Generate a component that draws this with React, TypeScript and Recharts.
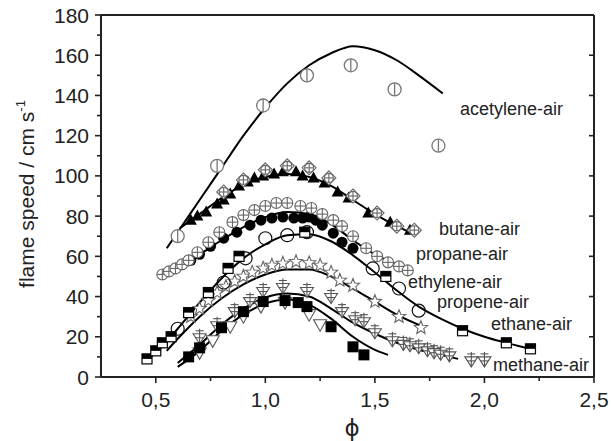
import { ComposedChart, Line, Scatter, XAxis, YAxis } from "recharts";

// equivalence ratio (phi) vs flame speed (cm/s)
const acetyleneMeas = [[0.6, 70], [0.78, 105], [0.99, 135], [1.19, 150], [1.39, 155], [1.59, 143], [1.79, 115]];
const acetyleneModel = [[0.55, 64], [0.6, 72], [0.7, 88], [0.8, 104], [0.9, 120], [1.0, 134], [1.1, 146], [1.2, 155], [1.3, 161], [1.4, 164.5], [1.5, 162.5], [1.6, 157.5], [1.7, 150], [1.81, 141]];

const butaneTri = [[0.66, 78], [0.69, 80], [0.73, 82], [0.78, 86], [0.81, 88], [0.84, 91], [0.88, 95], [0.92, 97], [0.95, 99], [0.99, 100], [1.04, 101], [1.08, 102], [1.14, 102], [1.17, 100], [1.22, 99], [1.27, 96.5], [1.33, 92], [1.38, 89], [1.47, 81.5], [1.57, 77], [1.66, 73]];
const butaneDia = [[0.81, 92], [0.9, 98], [1.0, 103], [1.1, 105], [1.2, 104], [1.29, 99], [1.4, 90], [1.51, 81.5], [1.6, 75], [1.68, 73]];
const butaneModel = [[0.61, 74], [0.7, 81], [0.8, 89], [0.9, 95.5], [1.0, 99.5], [1.1, 101], [1.2, 99.5], [1.3, 95], [1.4, 88], [1.5, 81], [1.6, 75], [1.68, 71]];

const propaneCross = [[0.53, 51], [0.56, 52.5], [0.59, 54], [0.62, 56], [0.65, 58], [0.69, 62], [0.74, 67], [0.79, 72], [0.85, 77], [0.9, 80.5], [0.95, 83], [1.0, 85], [1.05, 86.5], [1.1, 86.5], [1.16, 85], [1.21, 84], [1.26, 81], [1.31, 78], [1.35, 75], [1.4, 70], [1.46, 64], [1.51, 60], [1.56, 57], [1.61, 55], [1.65, 53]];
const propaneFill = [[0.66, 58], [0.7, 61], [0.75, 65], [0.81, 69], [0.87, 72], [0.93, 75.5], [0.98, 78], [1.03, 79], [1.08, 79.5], [1.13, 79], [1.17, 79], [1.2, 79.5], [1.23, 78], [1.26, 75.5], [1.31, 71.5], [1.35, 67], [1.4, 64]];
const propaneModel = [[0.52, 50], [0.6, 55], [0.7, 61], [0.8, 68], [0.9, 74.5], [1.0, 79.5], [1.1, 82], [1.2, 81], [1.3, 76], [1.4, 68], [1.5, 61], [1.6, 56], [1.66, 54]];

const ethyleneSq = [[0.46, 9], [0.5, 13], [0.53, 17], [0.57, 20], [0.65, 32], [0.74, 42], [0.83, 54], [0.88, 60], [1.18, 72], [1.55, 50], [1.9, 23], [2.1, 17], [2.21, 14]];
const ethyleneCirc = [[0.6, 24], [0.81, 47], [0.91, 59], [1.0, 69], [1.1, 70.5], [1.19, 72], [1.49, 54], [1.61, 44], [1.7, 33]];
const ethyleneModel = [[0.45, 8], [0.5, 12], [0.6, 24], [0.7, 37], [0.8, 49], [0.9, 59], [1.0, 66], [1.1, 70.5], [1.2, 71], [1.3, 67.5], [1.4, 60.5], [1.5, 52], [1.6, 43], [1.7, 35], [1.8, 29], [1.9, 24], [2.0, 20], [2.1, 17], [2.21, 14]];

const propeneStar = [[0.66, 30], [0.7, 34], [0.74, 38], [0.78, 42], [0.82, 45], [0.86, 47.5], [0.9, 50], [0.94, 52], [0.99, 54], [1.03, 55.5], [1.08, 56.5], [1.14, 57.3], [1.2, 56.7], [1.25, 55.5], [1.3, 52], [1.34, 48], [1.4, 45.5], [1.5, 37.5], [1.61, 30], [1.71, 24.5]];
const propeneModel = [[0.55, 13], [0.6, 19], [0.7, 30], [0.8, 39], [0.9, 46], [1.0, 51], [1.1, 53.5], [1.2, 53.5], [1.3, 50], [1.4, 44], [1.5, 37.5], [1.6, 31], [1.72, 25]];

const methaneCrown = [[0.7, 20], [0.78, 26], [0.86, 33], [0.93, 38], [0.99, 43], [1.08, 45], [1.19, 43], [1.3, 40], [1.35, 33], [1.41, 29], [1.45, 28], [1.5, 22.5], [1.58, 18.5], [1.63, 16.7], [1.66, 16], [1.7, 15], [1.74, 13.5], [1.77, 12.6], [1.8, 11.8], [1.84, 11], [1.94, 8.5], [2.0, 8.5]];
const methaneTri = [[0.7, 12], [0.76, 18], [0.84, 25], [0.9, 30], [0.98, 35], [1.09, 37], [1.2, 31], [1.25, 26]];
const methaneSq = [[0.65, 10], [0.7, 14.5], [0.8, 24.5], [0.9, 32.5], [0.99, 37.5], [1.09, 38], [1.15, 37], [1.19, 35], [1.3, 25], [1.4, 15], [1.45, 11]];
const methaneModelA = [[0.6, 7], [0.7, 16], [0.8, 26], [0.9, 34], [1.0, 39.5], [1.1, 41.5], [1.2, 40], [1.3, 34], [1.4, 27], [1.5, 21.5], [1.6, 17], [1.7, 13.5], [1.8, 11], [1.88, 9]];
const methaneModelB = [[0.6, 5], [0.7, 13], [0.8, 23], [0.9, 31], [1.0, 36.5], [1.1, 38.5], [1.2, 36], [1.3, 29], [1.4, 20], [1.5, 13.5], [1.56, 11]];

const xTicks = [0.5, 0.75, 1.0, 1.25, 1.5, 1.75, 2.0, 2.25, 2.5];
const xTopTicks = [0.5, 1.0, 1.5, 2.0, 2.5];
const yTicks = [0, 10, 20, 30, 40, 50, 60, 70, 80, 90, 100, 110, 120, 130, 140, 150, 160, 170, 180];
const yRightTicks = [0, 20, 40, 60, 80, 100, 120, 140, 160, 180];

const pts = (a: number[][]) => a.map(([phi, s]) => ({ phi, s }));

const FONT = "'Liberation Sans', Arial, sans-serif";
const INK = "#222";

const circleBar = (p: any) => (
  <g>
    <circle cx={p.cx} cy={p.cy} r={6.5} fill="#fff" stroke="#777" strokeWidth={1.3} />
    <line x1={p.cx} y1={p.cy - 6.5} x2={p.cx} y2={p.cy + 6.5} stroke="#777" strokeWidth={1.3} />
  </g>
);
const triFilled = (p: any) => (
  <polygon points={`${p.cx},${p.cy - 6.5} ${p.cx - 6},${p.cy + 4.5} ${p.cx + 6},${p.cy + 4.5}`} fill="#000" />
);
const diaCross = (p: any) => (
  <g fill="none" stroke="#666" strokeWidth={1.1}>
    <polygon points={`${p.cx},${p.cy - 7} ${p.cx + 7},${p.cy} ${p.cx},${p.cy + 7} ${p.cx - 7},${p.cy}`} fill="#fff" />
    <circle cx={p.cx} cy={p.cy} r={4.5} />
    <line x1={p.cx - 4.5} y1={p.cy} x2={p.cx + 4.5} y2={p.cy} />
    <line x1={p.cx} y1={p.cy - 4.5} x2={p.cx} y2={p.cy + 4.5} />
  </g>
);
const circleCross = (p: any) => (
  <g fill="#fff" stroke="#666" strokeWidth={1.1}>
    <circle cx={p.cx} cy={p.cy} r={5.5} />
    <line x1={p.cx - 5.5} y1={p.cy} x2={p.cx + 5.5} y2={p.cy} />
    <line x1={p.cx} y1={p.cy - 5.5} x2={p.cx} y2={p.cy + 5.5} />
  </g>
);
const circleFilled = (p: any) => <circle cx={p.cx} cy={p.cy} r={5.5} fill="#000" />;
const circleOpen = (p: any) => <circle cx={p.cx} cy={p.cy} r={6.5} fill="none" stroke="#111" strokeWidth={1.2} />;
const squareHalf = (p: any) => (
  <g>
    <rect x={p.cx - 5} y={p.cy - 5} width={10} height={10} fill="#fff" stroke="#000" strokeWidth={1.2} />
    <rect x={p.cx - 5} y={p.cy - 5} width={10} height={5} fill="#000" />
  </g>
);
const squareFilled = (p: any) => <rect x={p.cx - 5.5} y={p.cy - 5.5} width={11} height={11} fill="#000" />;
const starOpen = (p: any) => {
  const s: string[] = [];
  for (let i = 0; i < 10; i++) {
    const r = i % 2 === 0 ? 7 : 3;
    const a = -Math.PI / 2 + (i * Math.PI) / 5;
    s.push(`${p.cx + r * Math.cos(a)},${p.cy + r * Math.sin(a)}`);
  }
  return <polygon points={s.join(" ")} fill="#fff" stroke="#666" strokeWidth={1.1} />;
};
const triDownOpen = (p: any) => (
  <polygon points={`${p.cx - 6.5},${p.cy - 5} ${p.cx + 6.5},${p.cy - 5} ${p.cx},${p.cy + 6.5}`} fill="#fff" stroke="#555" strokeWidth={1.1} />
);
const triDownCross = (p: any) => (
  <g fill="none" stroke="#555" strokeWidth={1.1}>
    <polygon points={`${p.cx - 6.5},${p.cy - 3} ${p.cx + 6.5},${p.cy - 3} ${p.cx},${p.cy + 7}`} fill="#fff" />
    <line x1={p.cx} y1={p.cy - 8} x2={p.cx} y2={p.cy + 7} />
    <line x1={p.cx - 4} y1={p.cy - 6} x2={p.cx + 4} y2={p.cy - 6} />
    <line x1={p.cx - 4} y1={p.cy + 1} x2={p.cx + 4} y2={p.cy + 1} />
  </g>
);

const isMajor = (v: number, step: number) => Math.abs(v / step - Math.round(v / step)) < 1e-6;

const BottomTick = (p: any) => {
  const v = p.payload.value;
  const major = isMajor(v, 0.5);
  return (
    <g>
      <line x1={p.x} y1={p.y} x2={p.x} y2={p.y + (major ? 6 : 4)} stroke={INK} strokeWidth={1.6} />
      {major && (
        <text x={p.x} y={p.y + 30} textAnchor="middle" fontSize={21} fontFamily={FONT} fill={INK}>
          {v.toFixed(1).replace(".", ",")}
        </text>
      )}
    </g>
  );
};
const TopTick = (p: any) => <line x1={p.x} y1={p.y} x2={p.x} y2={p.y + 5} stroke={INK} strokeWidth={1.6} />;
const LeftTick = (p: any) => {
  const v = p.payload.value;
  const major = isMajor(v, 20);
  return (
    <g>
      <line x1={p.x} y1={p.y} x2={p.x - (major ? 6 : 4)} y2={p.y} stroke={INK} strokeWidth={1.6} />
      {major && (
        <text x={p.x - 12} y={p.y + 7.5} textAnchor="end" fontSize={21} fontFamily={FONT} fill={INK}>
          {v}
        </text>
      )}
    </g>
  );
};
const RightTick = (p: any) => <line x1={p.x} y1={p.y} x2={p.x - 5} y2={p.y} stroke={INK} strokeWidth={1.6} />;

const axisLine = { stroke: INK, strokeWidth: 2 };

const seriesLabels = [
  { text: "acetylene-air", x: 460, y: 115 },
  { text: "butane-air", x: 439, y: 235 },
  { text: "propane-air", x: 416, y: 260 },
  { text: "ethylene-air", x: 408, y: 288 },
  { text: "propene-air", x: 437, y: 308 },
  { text: "ethane-air", x: 491, y: 330 },
  { text: "methane-air", x: 493, y: 371 },
];

const models = [acetyleneModel, butaneModel, propaneModel, ethyleneModel, propeneModel, methaneModelA, methaneModelB];
const measured: [number[][], (p: any) => any][] = [
  [acetyleneMeas, circleBar],
  [propaneFill, circleFilled],
  [propaneCross, circleCross],
  [butaneTri, triFilled],
  [butaneDia, diaCross],
  [propeneStar, starOpen],
  [methaneTri, triDownOpen],
  [methaneCrown, triDownCross],
  [methaneSq, squareFilled],
  [ethyleneCirc, circleOpen],
  [ethyleneSq, squareHalf],
];

export default function App() {
  return (
    <div style={{ position: "absolute", left: 0, top: 0, background: "#fff" }}>
      <ComposedChart width={611} height={441} margin={{ top: 0, right: 0, bottom: 0, left: 0 }}>
        <XAxis
          dataKey="phi"
          type="number"
          domain={[0.25, 2.5]}
          allowDataOverflow
          ticks={xTicks}
          interval={0}
          height={64}
          tickSize={0}
          tickMargin={0}
          tickLine={false}
          axisLine={axisLine}
          tick={BottomTick}
        />
        <XAxis
          xAxisId="t"
          orientation="top"
          type="number"
          domain={[0.25, 2.5]}
          allowDataOverflow
          ticks={xTopTicks}
          interval={0}
          height={15}
          tickSize={0}
          tickMargin={0}
          tickLine={false}
          axisLine={axisLine}
          tick={TopTick}
        />
        <YAxis
          type="number"
          domain={[0, 180]}
          allowDataOverflow
          ticks={yTicks}
          interval={0}
          width={101}
          tickSize={0}
          tickMargin={0}
          tickLine={false}
          axisLine={axisLine}
          tick={LeftTick}
        />
        <YAxis
          yAxisId="r"
          orientation="right"
          type="number"
          domain={[0, 180]}
          allowDataOverflow
          ticks={yRightTicks}
          interval={0}
          width={17}
          tickSize={0}
          tickMargin={0}
          tickLine={false}
          axisLine={axisLine}
          tick={RightTick}
        />
        {models.map((m, i) => (
          <Line
            key={"m" + i}
            data={pts(m)}
            dataKey="s"
            type="monotone"
            stroke="#000"
            strokeWidth={2}
            dot={false}
            activeDot={false}
            isAnimationActive={false}
          />
        ))}
        {measured.map(([d, shape], i) => (
          <Scatter key={"d" + i} data={pts(d)} dataKey="s" shape={shape} isAnimationActive={false} />
        ))}
        {seriesLabels.map((l) => (
          <text key={l.text} x={l.x} y={l.y} fontSize={18} fontFamily={FONT} fill={INK}>
            {l.text}
          </text>
        ))}
        <text x={352} y={436} textAnchor="middle" fontSize={23} fontFamily="'DejaVu Sans', sans-serif" fill={INK}>
          ϕ
        </text>
        <text
          x={34}
          y={194}
          transform="rotate(-90 34 194)"
          textAnchor="middle"
          fontSize={21}
          fontFamily={FONT}
          fill={INK}
        >
          flame speed / cm s<tspan dy={-9} fontSize={13}>-1</tspan>
        </text>
      </ComposedChart>
    </div>
  );
}
